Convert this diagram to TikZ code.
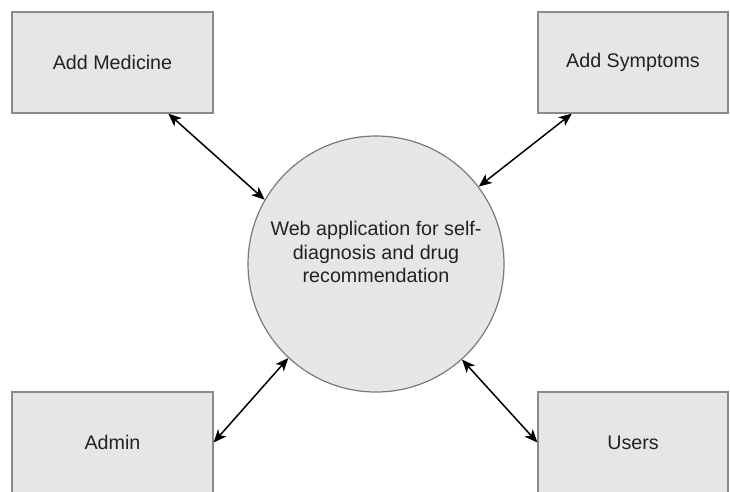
\documentclass[tikz,border=0pt]{standalone}
\usepackage{fontspec}
\setmainfont{Liberation Sans}
\usetikzlibrary{arrows.meta,calc}
\definecolor{shapefill}{HTML}{E6E6E6}
\definecolor{boxline}{HTML}{8A8A8A}
\definecolor{circline}{HTML}{7A7A7A}
\definecolor{labelink}{HTML}{222222}
\begin{document}
\begin{tikzpicture}[x=1pt,y=-1pt,
  entity/.style={draw=boxline, fill=shapefill, line width=1.2pt, inner sep=0pt,
    minimum height=101pt, text=labelink, font=\fontsize{19.7}{23.5}\selectfont},
  process/.style={circle, draw=circline, fill=shapefill, line width=1.2pt,
    inner sep=0pt, minimum size=256pt},
  flow/.style={line width=1.5pt, black,
    {Stealth[length=13pt,width=11pt,inset=3.5pt]}-{Stealth[length=13pt,width=11pt,inset=3.5pt]}}]
  \useasboundingbox (0,0) rectangle (730,491);
  \clip (0,0) rectangle (730,491);

  % external entities
  \node[entity, minimum width=201pt] (med)   at (112.5,62.5)  {Add Medicine};
  \node[entity, minimum width=190pt] (symp)  at (633,62.5)    {Add Symptoms};
  \node[entity, minimum width=201pt] (admin) at (112.5,442.5) {Admin};
  \node[entity, minimum width=190pt] (users) at (633,442.5)   {Users};

  % central process
  \node[process] (app) at (376,264) {};
  \node[text=labelink, align=center, font=\fontsize{19.7}{23.5}\selectfont]
    (apptext) at (376,252) {Web application for self-\\diagnosis and drug\\recommendation};

  % data flows
  \draw[flow] ($(med.south west)!0.776!(med.south east)$) -- (app.150);
  \draw[flow] ($(symp.south west)!0.18!(symp.south east)$) -- (app.37);
  \draw[flow] (admin.east) -- (app.227);
  \draw[flow] (app.312) -- (users.west);
\end{tikzpicture}
\end{document}
